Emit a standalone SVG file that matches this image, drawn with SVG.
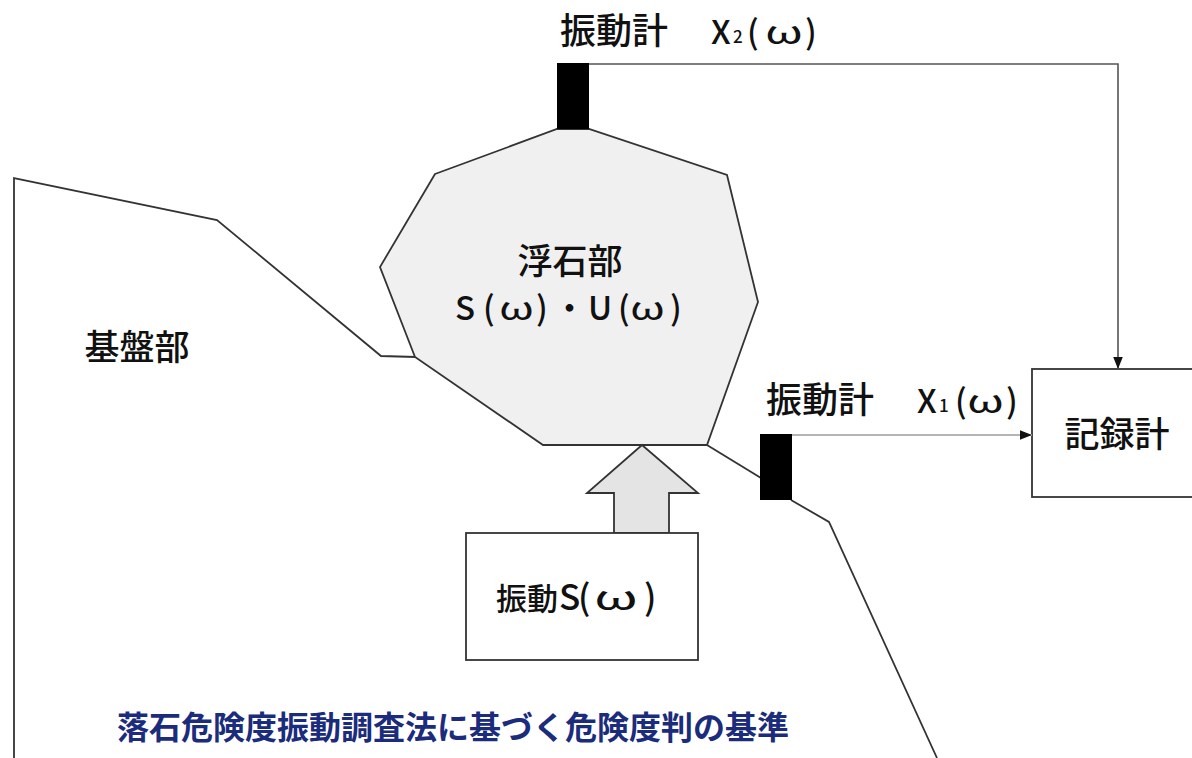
<svg xmlns="http://www.w3.org/2000/svg" width="1192" height="758" viewBox="0 0 1192 758">
  <style>
    .lbl { font-family: "Noto Sans CJK JP", "Noto Sans", sans-serif; font-size: 35px; font-weight: 500; fill: #111; }
    .lat { font-size: 33px; }
    .sub { font-size: 17px; }
    .om { font-weight: 400; }
    .edge { fill: none; stroke: #333; stroke-width: 1.8; }
    .cap { font-family: "Noto Sans CJK JP", "Noto Sans", sans-serif; font-size: 32px; font-weight: 700; fill: #1c2c7c; }
  </style>
  <defs>
    <marker id="tri" viewBox="0 0 10 8" refX="10" refY="4" markerUnits="userSpaceOnUse" markerWidth="12" markerHeight="10" orient="auto">
      <path d="M0,0 L10,4 L0,8 z" fill="#111"/>
    </marker>
  </defs>
  <rect width="1192" height="758" fill="#fff"/>

  <!-- bedrock outline -->
  <g id="bedrock">
    <path class="edge" d="M14,758 V178 L217,220 L381,356 L416,357"/>
    <path class="edge" d="M707,445 L761,478"/>
    <path class="edge" d="M791,500 L829,522 L937,758"/>
    <text class="lbl" x="137" y="360" text-anchor="middle">基盤部</text>
  </g>

  <!-- loose rock block -->
  <g id="loose-rock">
    <polygon points="435,174 557,129 589,129 727,175 758,302 707,445 543,445 415,357 380,267" fill="#f0f0f0" stroke="#333" stroke-width="1.8"/>
    <text class="lbl" x="570" y="274" text-anchor="middle">浮石部</text>
    <text class="lbl lat" y="320"><tspan x="455">S</tspan><tspan x="483">(</tspan><tspan class="om" x="499" textLength="35" lengthAdjust="spacingAndGlyphs">ω</tspan><tspan x="536">)</tspan><tspan x="553">・</tspan><tspan x="588">U</tspan><tspan x="618">(</tspan><tspan class="om" x="630" textLength="35" lengthAdjust="spacingAndGlyphs">ω</tspan><tspan x="670">)</tspan></text>
  </g>

  <!-- vibration input -->
  <g id="vibration-source">
    <polygon points="642,445 698,493 669,493 669,533 614,533 614,493 587,493" fill="#e4e4e4" stroke="#333" stroke-width="1.8"/>
    <rect x="466" y="533" width="232" height="127" fill="#fff" stroke="#333" stroke-width="1.8"/>
    <text class="lbl" y="610" font-size="33"><tspan x="496" font-size="31">振動</tspan><tspan x="559">S</tspan><tspan x="578">(</tspan><tspan class="om" x="594" textLength="44" lengthAdjust="spacingAndGlyphs">ω</tspan><tspan x="644">)</tspan></text>
  </g>

  <!-- vibrometer on the rock -->
  <g id="vibrometer-x2">
    <rect x="557" y="63" width="32" height="66" fill="#000"/>
    <text class="lbl" y="44"><tspan x="560" font-size="36">振動計</tspan><tspan class="lat" x="711">X</tspan><tspan class="sub" x="733" dy="-1">2</tspan><tspan class="lat" x="747" dy="1">(</tspan><tspan class="lat om" x="765" textLength="38" lengthAdjust="spacingAndGlyphs">ω</tspan><tspan class="lat" x="805">)</tspan></text>
  </g>

  <!-- vibrometer on the bedrock -->
  <g id="vibrometer-x1">
    <rect x="760" y="434" width="32" height="66" fill="#000"/>
    <text class="lbl" y="413"><tspan x="766" font-size="36">振動計</tspan><tspan class="lat" x="917">X</tspan><tspan class="sub" x="939" dy="-1">1</tspan><tspan class="lat" x="955" dy="1">(</tspan><tspan class="lat om" x="967" textLength="37" lengthAdjust="spacingAndGlyphs">ω</tspan><tspan class="lat" x="1006">)</tspan></text>
  </g>

  <!-- recorder -->
  <g id="recorder">
    <rect x="1032" y="369" width="220" height="128" fill="#fff" stroke="#333" stroke-width="1.8"/>
    <text class="lbl" x="1117" y="447" text-anchor="middle">記録計</text>
  </g>

  <!-- signal lines -->
  <g id="connectors">
    <path d="M589,64 H1118 V369" fill="none" stroke="#555" stroke-width="1.6" marker-end="url(#tri)"/>
    <path d="M792,435 H1032" fill="none" stroke="#b4b4b4" stroke-width="2" marker-end="url(#tri)"/>
  </g>

  <text class="cap" x="117" y="739">落石危険度振動調査法に基づく危険度判の基準</text>
</svg>
